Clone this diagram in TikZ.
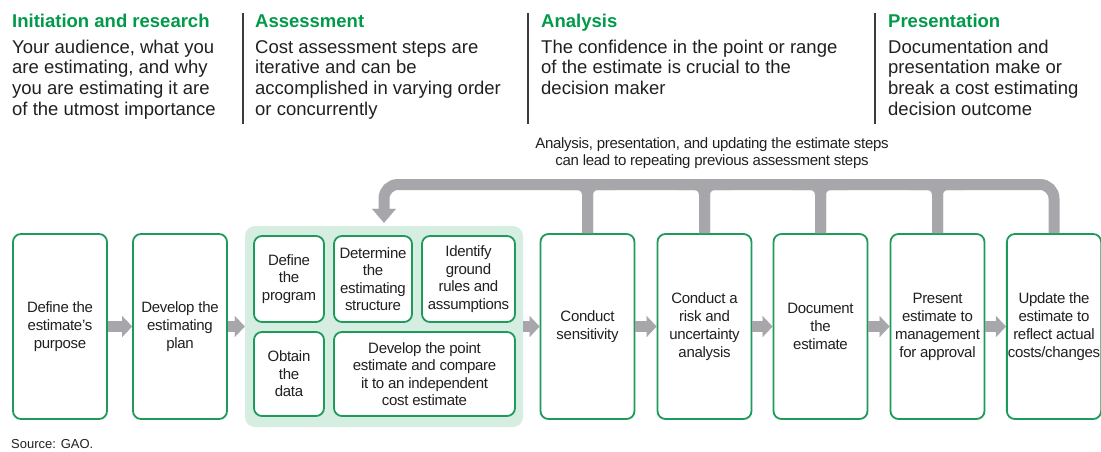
\documentclass[tikz,border=0pt]{standalone}
\usepackage{fontspec}
\setmainfont{Liberation Sans}
\newfontfamily\boxfam[LetterSpace=-2]{Liberation Sans}
\usetikzlibrary{arrows.meta,calc}
\definecolor{hgreen}{RGB}{0,154,73}
\definecolor{bgreen}{RGB}{30,154,90}
\definecolor{lgreen}{RGB}{214,237,226}
\definecolor{agray}{RGB}{167,167,171}
\definecolor{txtc}{RGB}{35,31,32}
\definecolor{sepc}{RGB}{60,60,60}
\begin{document}
\begin{tikzpicture}[x=1pt,y=-1pt,
  every node/.style={text=txtc},
  head/.style={anchor=base west, inner sep=0pt, font=\fontsize{18.5}{20.7}\selectfont\bfseries, text=hgreen},
  body/.style={anchor=north west, inner sep=0pt, align=left, font=\fontsize{18.5}{20.7}\selectfont},
  sepline/.style={draw=sepc, line width=1.4pt},
  stepbox/.style={draw=bgreen, line width=1.8pt, rounded corners=8pt, fill=white, align=center, font=\boxfam\fontsize{15}{18}\selectfont, inner sep=1pt, minimum width=94pt, minimum height=185pt},
  subbox/.style={draw=bgreen, line width=1.8pt, rounded corners=8pt, fill=white, align=center, font=\boxfam\fontsize{15}{17.5}\selectfont, inner sep=1pt},
  grpbox/.style={fill=lgreen, rounded corners=10pt, minimum width=278pt, minimum height=201pt, inner sep=0pt},
  garrow/.style={draw=agray, line width=11pt, -{Triangle[length=10pt,width=21pt,line width=0.1pt]}},
  fb/.style={draw=agray, line width=11pt},
]
\useasboundingbox (0,0) rectangle (1101,451);

% headers
\node[head] (h1) at (12,27) {Initiation and research};
\node[head] (h2) at (255,27) {Assessment};
\node[head] (h3) at (541,27) {Analysis};
\node[head] (h4) at (888,27) {Presentation};
\node[body] (t1) at (12,38.5) {\strut Your audience, what you\\are estimating, and why\\you are estimating it are\\of the utmost importance};
\node[body] (t2) at (255,38.5) {\strut Cost assessment steps are\\iterative and can be\\accomplished in varying order\\or concurrently};
\node[body] (t3) at (541,38.5) {\strut The confidence in the point or range\\of the estimate is crucial to the\\decision maker};
\node[body] (t4) at (888,38.5) {\strut Documentation and\\presentation make or\\break a cost estimating\\decision outcome};
\draw[sepline] (243,13) -- (243,124);
\draw[sepline] (528,13) -- (528,124);
\draw[sepline] (875,13) -- (875,124);

% feedback label
\node[align=center, inner sep=0pt, font=\boxfam\fontsize{15}{17}\selectfont] (lbl) at (712,153.5) {Analysis, presentation, and updating the estimate steps\\can lead to repeating previous assessment steps};

% main boxes
\node[stepbox] (b1) at (60,326.5) {Define the\\estimate’s\\purpose};
\node[stepbox] (b2) at (180,326.5) {Develop the\\estimating\\plan};
\node[grpbox] (grp) at (384,326.5) {};
\node[subbox, minimum width=70pt, minimum height=86pt] (s1) at (289,279) {Define\\the\\program};
\node[subbox, minimum width=78pt, minimum height=86pt] (s2) at (373,279) {Determine\\the\\estimating\\structure};
\node[subbox, minimum width=93pt, minimum height=86pt] (s3) at (468.5,279) {Identify\\ground\\rules and\\assumptions};
\node[subbox, minimum width=70pt, minimum height=84pt] (s4) at (289,374) {Obtain\\the\\data};
\node[subbox, minimum width=181pt, minimum height=84pt] (s5) at (424.5,374) {Develop the point\\estimate and compare\\it to an independent\\cost estimate};
\node[stepbox] (b3) at (587.5,326.5) {Conduct\\sensitivity};
\node[stepbox] (b4) at (704.5,326.5) {Conduct a\\risk and\\uncertainty\\analysis};
\node[stepbox] (b5) at (820.5,326.5) {Document\\the\\estimate};
\node[stepbox] (b6) at (937.5,326.5) {Present\\estimate to\\management\\for approval};
\node[stepbox, minimum width=91pt] (b7) at (1054,326.5) {Update the\\estimate to\\reflect actual\\costs/changes};

% flow arrows
\draw[garrow] (b1.east) -- (b2.west);
\draw[garrow] (b2.east) -- (grp.west);
\draw[garrow] (grp.east) -- (b3.west);
\draw[garrow] (b3.east) -- (b4.west);
\draw[garrow] (b4.east) -- (b5.west);
\draw[garrow] (b5.east) -- (b6.west);
\draw[garrow] (b6.east) -- (b7.west);

% feedback loop
\coordinate (bary) at (0,184.5);
\foreach \b in {b3,b4,b5,b6}{
  \draw[fb, rounded corners=10pt] (\b.north) |- ($(\b.north |- bary)+(-28,0)$);
  \draw[fb, rounded corners=10pt] (\b.north) |- ($(\b.north |- bary)+(28,0)$);
}
\draw[fb, rounded corners=14pt, -{Triangle[length=14pt,width=24pt,line width=0.1pt]}] (b7.north) |- (bary -| grp.north) -- ([yshift=3pt]grp.north);

% source
\node[anchor=base west, inner sep=0pt, font=\fontsize{13}{15}\selectfont] (src) at (11,448) {Source: GAO.};
\end{tikzpicture}
\end{document}
